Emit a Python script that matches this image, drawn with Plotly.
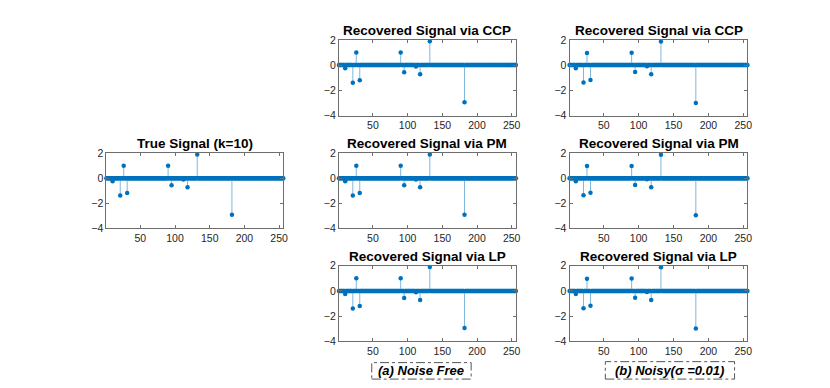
import plotly.graph_objects as go

# signal length and support of the sparse signal (k=10)
N = 256
support = [10, 21, 26, 31, 90, 95, 112, 118, 132, 182]

true_vals = [-0.25, -1.4, 1.0, -1.2, 1.0, -0.56, -0.1, -0.72, 1.9, -2.95]

# noise free recoveries
ccp_free = [-0.25, -1.4, 1.0, -1.2, 1.0, -0.56, -0.1, -0.72, 1.9, -2.95]
pm_free = [-0.25, -1.4, 1.0, -1.2, 1.0, -0.56, -0.1, -0.72, 1.9, -2.95]
lp_free = [-0.25, -1.4, 1.0, -1.2, 1.0, -0.56, -0.1, -0.72, 1.9, -2.95]

# noisy recoveries (sigma = 0.01)
ccp_noisy = [-0.24, -1.38, 0.97, -1.18, 0.98, -0.55, -0.09, -0.73, 1.88, -3.0]
pm_noisy = [-0.24, -1.38, 0.97, -1.18, 0.98, -0.55, -0.09, -0.73, 1.88, -2.98]
lp_noisy = [-0.24, -1.38, 0.97, -1.18, 0.98, -0.55, -0.09, -0.73, 1.88, -2.98]

x_ticks = [50, 100, 150, 200, 250]
y_ticks = [-4, -2, 0, 2]

BLUE = "#0072BD"
FONT = "Liberation Sans, Arial, Helvetica, sans-serif"
W, H = 830, 388

# panel layout in pixels: (title, values, left, right, top, bottom)
col_left = (107, 285)
col_mid = (341, 519)
col_right = (573, 752)
row_top = (35, 113)
row_mid = (152, 229)
row_bot = (268, 346)

panels = [
    ("True Signal (k=10)", true_vals, col_left, row_mid),
    ("Recovered Signal via CCP", ccp_free, col_mid, row_top),
    ("Recovered Signal via PM", pm_free, col_mid, row_mid),
    ("Recovered Signal via LP", lp_free, col_mid, row_bot),
    ("Recovered Signal via CCP", ccp_noisy, col_right, row_top),
    ("Recovered Signal via PM", pm_noisy, col_right, row_mid),
    ("Recovered Signal via LP", lp_noisy, col_right, row_bot),
]

fig = go.Figure()
annotations = []
layout_axes = {}

for i, (title, vals, (xl, xr), (yt, yb)) in enumerate(panels, start=1):
    xa = "x" if i == 1 else f"x{i}"
    ya = "y" if i == 1 else f"y{i}"

    # full signal from the support values
    sig = [0.0] * N
    for p, v in zip(support, vals):
        sig[p - 1] = v
    idx = list(range(1, N + 1))

    # stems
    sx, sy = [], []
    for p, v in zip(support, vals):
        sx += [p, p, None]
        sy += [0, v, None]
    fig.add_trace(go.Scatter(
        x=sx, y=sy, mode="lines", xaxis=xa, yaxis=ya,
        line=dict(color="rgba(0,114,189,0.5)", width=1),
        hoverinfo="skip", showlegend=False))

    # markers at every sample
    fig.add_trace(go.Scatter(
        x=idx, y=sig, mode="markers", xaxis=xa, yaxis=ya,
        marker=dict(color=BLUE, size=4.5, line=dict(width=0)),
        cliponaxis=False, showlegend=False))

    axis_common = dict(
        showline=True, linecolor="#6e6e6e", linewidth=1, mirror="ticks",
        ticks="inside", ticklen=3, tickcolor="#6e6e6e",
        showgrid=False, zeroline=False,
        tickfont=dict(family=FONT, size=10.5, color="#262626"),
    )
    layout_axes["xaxis" if i == 1 else f"xaxis{i}"] = dict(
        axis_common, domain=[xl / W, xr / W], range=[1, N],
        tickvals=x_ticks, anchor=ya)
    layout_axes["yaxis" if i == 1 else f"yaxis{i}"] = dict(
        axis_common, domain=[1 - yb / H, 1 - yt / H], range=[-4, 2],
        tickvals=y_ticks, anchor=xa)

    annotations.append(dict(
        text=f"<b>{title}</b>", x=(xl + xr) / 2 / W, y=1 - (yt - 10) / H,
        xref="paper", yref="paper", showarrow=False,
        xanchor="center", yanchor="middle",
        font=dict(family=FONT, size=13.5, color="#000000")))

# captions under the columns
captions = [
    ("<b><i>(a) Noise Free</i></b>", 374, 474, 368, 385),
    ("<b><i>(b) Noisy(σ =0.01)</i></b>", 609, 739, 367, 385),
]
shapes = []
for text, x0, x1, y0, y1 in captions:
    shapes.append(dict(
        type="rect", xref="paper", yref="paper",
        x0=x0 / W, x1=x1 / W, y0=1 - y1 / H, y1=1 - y0 / H,
        line=dict(color="#555555", width=1, dash="dashdot")))
    annotations.append(dict(
        text=text, x=(x0 + x1) / 2 / W, y=1 - (y0 + y1) / 2 / H,
        xref="paper", yref="paper", showarrow=False,
        xanchor="center", yanchor="middle",
        font=dict(family=FONT, size=13, color="#000000")))

fig.update_layout(
    width=W, height=H,
    margin=dict(l=0, r=0, t=0, b=0),
    paper_bgcolor="white", plot_bgcolor="white",
    annotations=annotations, shapes=shapes,
    **layout_axes,
)

# drop the browser's default page margin so the figure sits at (0, 0)
fig.write_html(
    "out.html",
    config={"displayModeBar": False},
    post_script="document.body.style.margin = '0px';",
)
